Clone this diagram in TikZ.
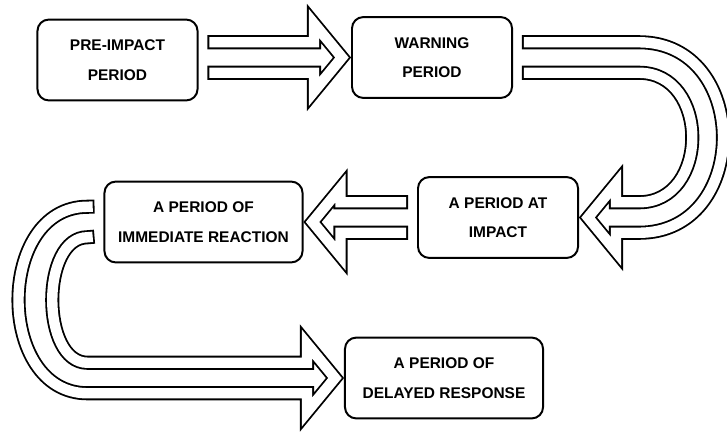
\documentclass[tikz,border=0pt]{standalone}
\usepackage{fontspec}
\newfontfamily\letterfont{Liberation Sans}
\usetikzlibrary{calc}

\begin{document}
\begin{tikzpicture}[
    x=0.025cm, y=0.025cm,
    % Period boxes
    period/.style={
        draw, line width=1.4pt, rounded corners=8pt, fill=white,
        font=\letterfont\bfseries\fontsize{11pt}{21pt}\selectfont,
        minimum width=4cm, minimum height=2.02cm, align=center, inner sep=2pt
    },
    % Wider period boxes (lower row)
    periodw/.style={period, minimum width=4.95cm},
    % Hollow double arrows
    flow/.style={
        draw, line width=1.3pt, double=white, double distance=7.4pt,
        line cap=rect, line join=miter
    }
]
\useasboundingbox (0,0) rectangle (727,-436);

% ---- ROW 1 ----
\node[period] (pre)  at (117.5, -60)  {PRE-IMPACT\\PERIOD};
\node[period] (warn) at (432, -57.5)  {WARNING\\PERIOD};

% ---- ROW 2 ----
\node[periodw] (react)  at (203.5, -222) {A PERIOD OF\\IMMEDIATE REACTION};
\node[period]  (impact) at (498, -217.5) {A PERIOD AT\\IMPACT};

% ---- ROW 3 ----
\node[periodw] (delay) at (444, -378) {A PERIOD OF\\DELAYED RESPONSE};

% pre-impact -> warning
\draw[flow] ($(pre.east |- warn.west)+(16,15.25)$) -| ($(warn.west)+(-37,34)$)
    -- ($(warn.west)+(-9,0)$) -- ($(warn.west)+(-37,-34)$)
    |- ($(pre.east |- warn.west)+(16,-15.25)$);

% warning -> impact (turn on the right)
\draw[flow] ($(warn.east)+(16,15.25)$) -- ($(warn.east)+(126,15.25)$)
    .. controls +(112,0) and +(112,0) .. ($(warn.east |- impact.east)+(126,-15.25)$)
    -| ($(impact.east)+(37,-34)$) -- ($(impact.east)+(9,0)$) -- ($(impact.east)+(37,34)$)
    |- ($(warn.east |- impact.east)+(126,15.25)$)
    .. controls +(71,0) and +(71,0) .. ($(warn.east)+(126,-15.25)$)
    -- ($(warn.east)+(16,-15.25)$);

% impact -> immediate reaction
\draw[flow] ($(impact.west)+(-16,15.25)$) -| ($(react.east)+(37,34)$)
    -- ($(react.east)+(9,0)$) -- ($(react.east)+(37,-34)$)
    |- ($(impact.west)+(-16,-15.25)$);

% immediate reaction -> delayed response (turn on the left)
\draw[flow] ($(react.west)+(-16,15.25)$)
    .. controls +(-92,0) and +(-92,0) .. ($(react.west |- delay.west)+(-16,-15.25)$)
    -| ($(delay.west)+(-37,-34)$) -- ($(delay.west)+(-9,0)$) -- ($(delay.west)+(-37,34)$)
    |- ($(react.west |- delay.west)+(-16,15.25)$)
    .. controls +(-47,0) and +(-47,0) .. ($(react.west)+(-16,-15.25)$);

\end{tikzpicture}
\end{document}
